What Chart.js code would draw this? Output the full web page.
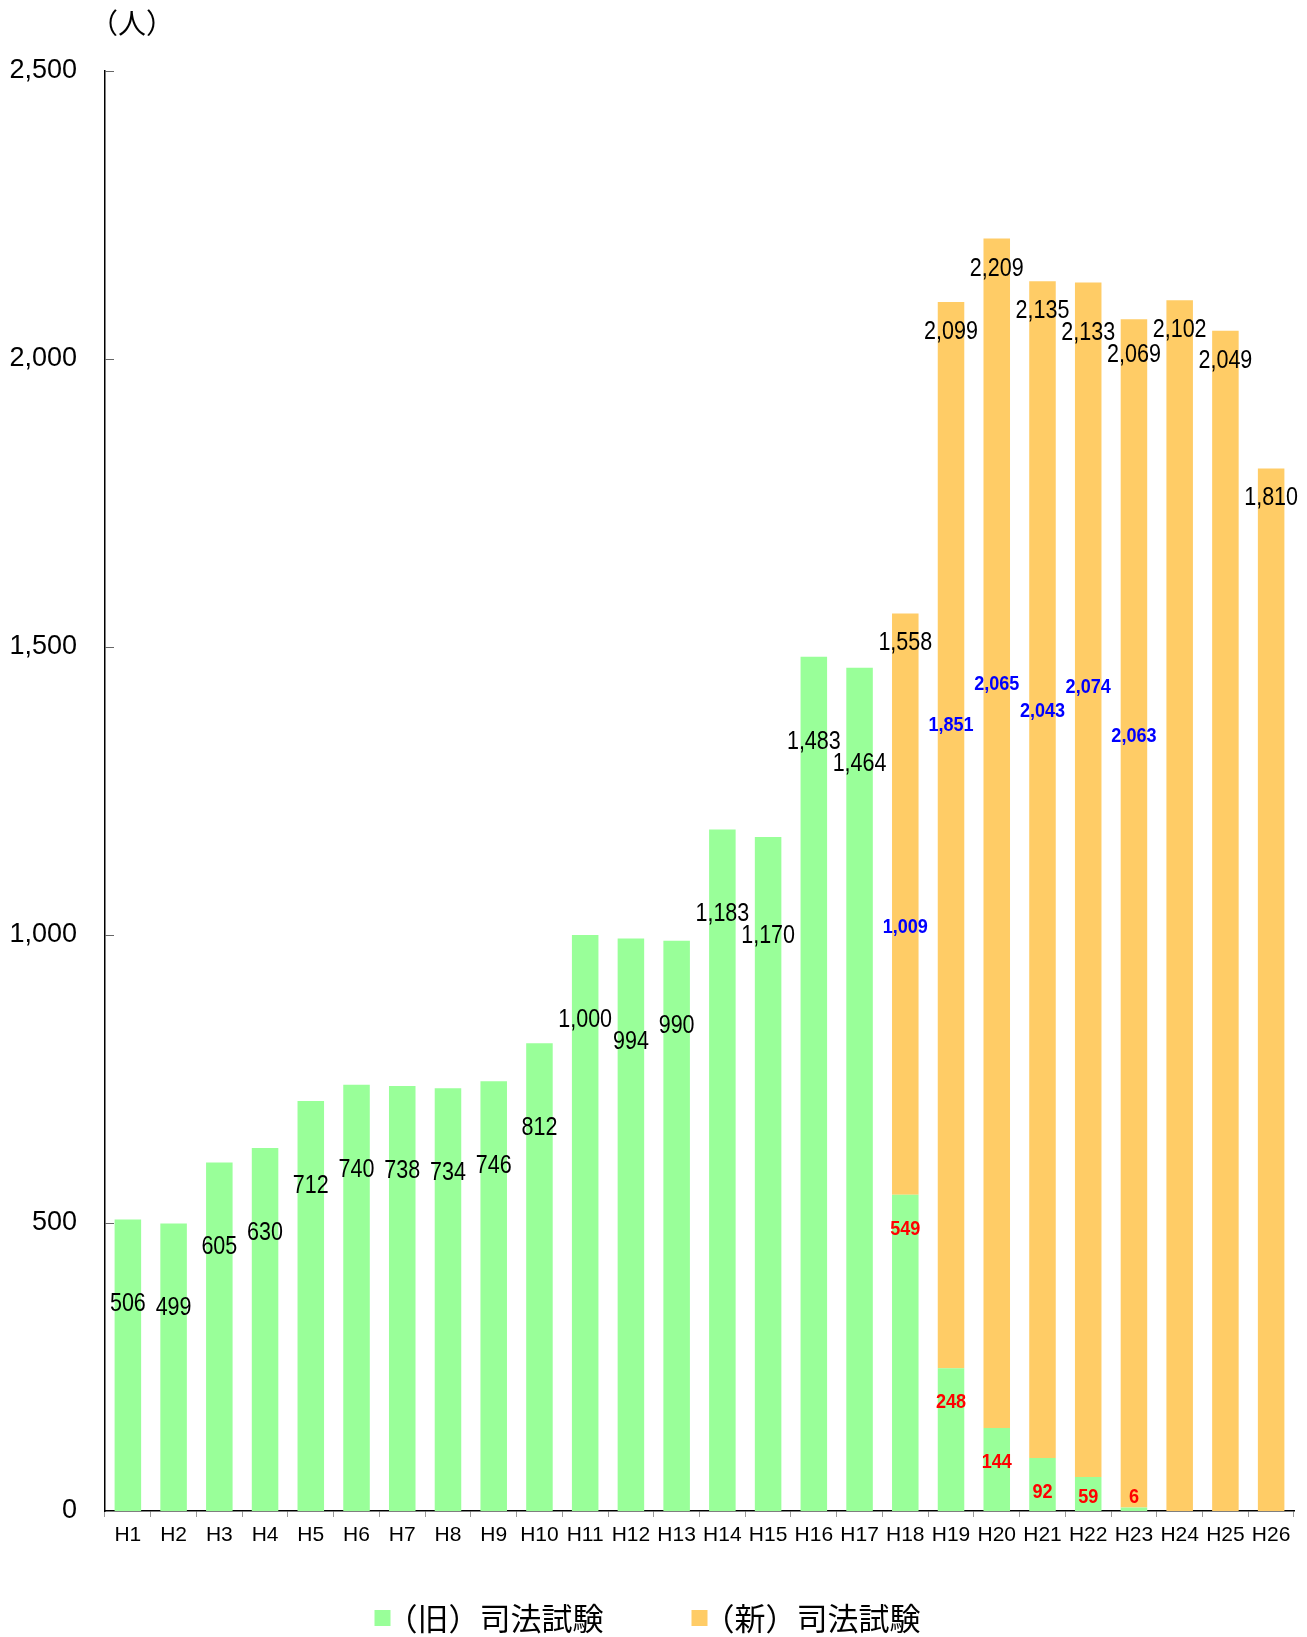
<!DOCTYPE html>
<html>
<head>
<meta charset="utf-8">
<script src="https://cdn.jsdelivr.net/npm/chart.js@4.4.1/dist/chart.umd.min.js"></script>
<style>
  html, body { margin: 0; padding: 0; background: #fff; }
  #wrap { width: 1307px; height: 1637px; }
</style>
</head>
<body>
<div id="wrap"><canvas id="chart" width="1307" height="1637"></canvas></div>
<script>
// 司法試験 合格者数（H1〜H26）
var categories = ['H1', 'H2', 'H3', 'H4', 'H5', 'H6', 'H7', 'H8', 'H9', 'H10', 'H11', 'H12', 'H13',
                  'H14', 'H15', 'H16', 'H17', 'H18', 'H19', 'H20', 'H21', 'H22', 'H23', 'H24', 'H25', 'H26'];
var oldExam = [506, 499, 605, 630, 712, 740, 738, 734, 746, 812, 1000, 994, 990,
               1183, 1170, 1483, 1464, 549, 248, 144, 92, 59, 6, null, null, null];
var newExam = [null, null, null, null, null, null, null, null, null, null, null, null, null,
               null, null, null, null, 1009, 1851, 2065, 2043, 2074, 2063, 2102, 2049, 1810];
var yTicks = [0, 500, 1000, 1500, 2000, 2500];
var unitLabel = '（人）';
var seriesNames = ['（旧）司法試験', '（新）司法試験'];

var sansFont = '"Liberation Sans", Arial, sans-serif';
var cjkFont = '"Noto Sans CJK JP", sans-serif';
var squeeze = 0.86;   // 縦長の数字に見せるための横倍率

var fmt = function (v) {
    return v.toLocaleString('en-US');
};

var narrowText = function (ctx, text, x, y) {
    ctx.save();
    ctx.translate(x, y);
    ctx.scale(squeeze, 1);
    ctx.fillText(text, 0, 0);
    ctx.restore();
};

var overlaps = function (prev, x, y, w) {
    return prev && Math.abs(y - prev.y) < 22 && x - w / 2 < prev.x + prev.w / 2 + 2;
};

// 数値ラベル（合計=黒、新=青、旧=赤）
var valueLabels = {
    id: 'valueLabels',
    afterDatasetsDraw: function (chart) {
        var ctx = chart.ctx;
        var yScale = chart.scales.y;
        var oldMeta = chart.getDatasetMeta(0);
        var newMeta = chart.getDatasetMeta(1);
        var prev = null, prevBlue = null;
        ctx.save();
        ctx.textAlign = 'center';
        ctx.textBaseline = 'middle';
        for (var i = 0; i < categories.length; i++) {
            var o = oldExam[i] || 0;
            var n = newExam[i] || 0;
            var bar = n ? newMeta.data[i] : oldMeta.data[i];
            var txt = fmt(o + n);
            ctx.font = '25px ' + sansFont;
            var w = ctx.measureText(txt).width * squeeze;
            var ly = bar.y + (n ? 30 : 85);
            // 隣のラベルと重なるときは下へずらす
            if (overlaps(prev, bar.x, ly, w)) {
                ly = prev.y + 22;
            }
            ctx.fillStyle = '#000';
            narrowText(ctx, txt, bar.x, ly);
            prev = { x: bar.x, y: ly, w: w };
            if (o && n) {
                ctx.font = 'bold 21px ' + sansFont;
                var bt = fmt(n);
                var bw = ctx.measureText(bt).width * squeeze;
                var by = yScale.getPixelForValue((o + n) * 0.65);
                if (overlaps(prevBlue, bar.x, by, bw)) {
                    by = prevBlue.y - 24;
                }
                ctx.fillStyle = '#0000FF';
                narrowText(ctx, bt, bar.x, by);
                prevBlue = { x: bar.x, y: by, w: bw };
                ctx.fillStyle = '#FF0000';
                narrowText(ctx, fmt(o), bar.x, Math.min(oldMeta.data[i].y + 34, yScale.bottom - 14));
            }
        }
        ctx.restore();
    }
};

// 縦軸の内向き目盛りと単位
var axisExtras = {
    id: 'axisExtras',
    afterDraw: function (chart) {
        var ctx = chart.ctx;
        var yScale = chart.scales.y;
        var left = chart.chartArea.left;
        ctx.save();
        ctx.strokeStyle = '#666';
        ctx.lineWidth = 1;
        yTicks.forEach(function (v) {
            if (!v) return;
            var y = Math.round(yScale.getPixelForValue(v)) + 0.5;
            ctx.beginPath();
            ctx.moveTo(left, y);
            ctx.lineTo(left + 9, y);
            ctx.stroke();
        });
        ctx.font = '28px ' + cjkFont;
        ctx.fillStyle = '#000';
        ctx.textAlign = 'left';
        ctx.textBaseline = 'middle';
        ctx.fillText(unitLabel, left - 15, 23);
        ctx.restore();
    }
};

// 凡例（下部）
var bottomLegend = {
    id: 'bottomLegend',
    afterDraw: function (chart) {
        var ctx = chart.ctx;
        var sets = chart.data.datasets;
        var box = 16, gap = 84;
        ctx.save();
        ctx.font = '31px ' + cjkFont;
        ctx.textBaseline = 'middle';
        ctx.textAlign = 'left';
        var widths = sets.map(function (ds) { return box + ctx.measureText(ds.label).width; });
        var total = widths.reduce(function (a, b) { return a + b; }, 0) + gap * (sets.length - 1);
        var x = chart.width / 2 - total / 2 - 4;
        var cy = chart.height - 19;
        sets.forEach(function (ds, i) {
            ctx.fillStyle = ds.backgroundColor;
            ctx.fillRect(x, cy - box / 2, box, box);
            ctx.fillStyle = '#000';
            ctx.fillText(ds.label, x + box - 4, cy);
            x += widths[i] + gap;
        });
        ctx.restore();
    }
};

var ctx = document.getElementById('chart');
var myChart = new Chart(ctx, {
    type: 'bar',
    data: {
        labels: categories,
        datasets: [
            { label: seriesNames[0], data: oldExam, backgroundColor: '#99FF99',
              categoryPercentage: 1, barPercentage: 0.58 },
            { label: seriesNames[1], data: newExam, backgroundColor: '#FFCC66',
              categoryPercentage: 1, barPercentage: 0.58 }
        ]
    },
    options: {
        responsive: false,
        animation: false,
        devicePixelRatio: 1,
        layout: { padding: { left: 10, right: 13, top: 71, bottom: 86 } },
        plugins: {
            legend: { display: false },
            tooltip: { enabled: false }
        },
        scales: {
            x: {
                stacked: true,
                grid: { display: true, drawOnChartArea: false, color: '#999', tickLength: 6 },
                border: { display: true, color: '#000', width: 1.5 },
                ticks: {
                    color: '#000', padding: 6, autoSkip: false, maxRotation: 0, minRotation: 0,
                    font: { size: 21, family: sansFont }
                },
                afterFit: function (s) { s.height = 40; }
            },
            y: {
                stacked: true,
                min: 0,
                max: 2500,
                grid: { display: false, drawTicks: false },
                border: { display: true, color: '#000', width: 1.5 },
                afterBuildTicks: function (s) {
                    s.ticks = yTicks.map(function (v) { return { value: v }; });
                },
                ticks: {
                    color: '#000',
                    padding: 28,
                    font: { size: 27, family: sansFont },
                    callback: function (v) { return fmt(v); }
                },
                afterFit: function (s) { s.width = 95; }
            }
        }
    },
    plugins: [valueLabels, axisExtras, bottomLegend]
});
</script>
</body>
</html>
